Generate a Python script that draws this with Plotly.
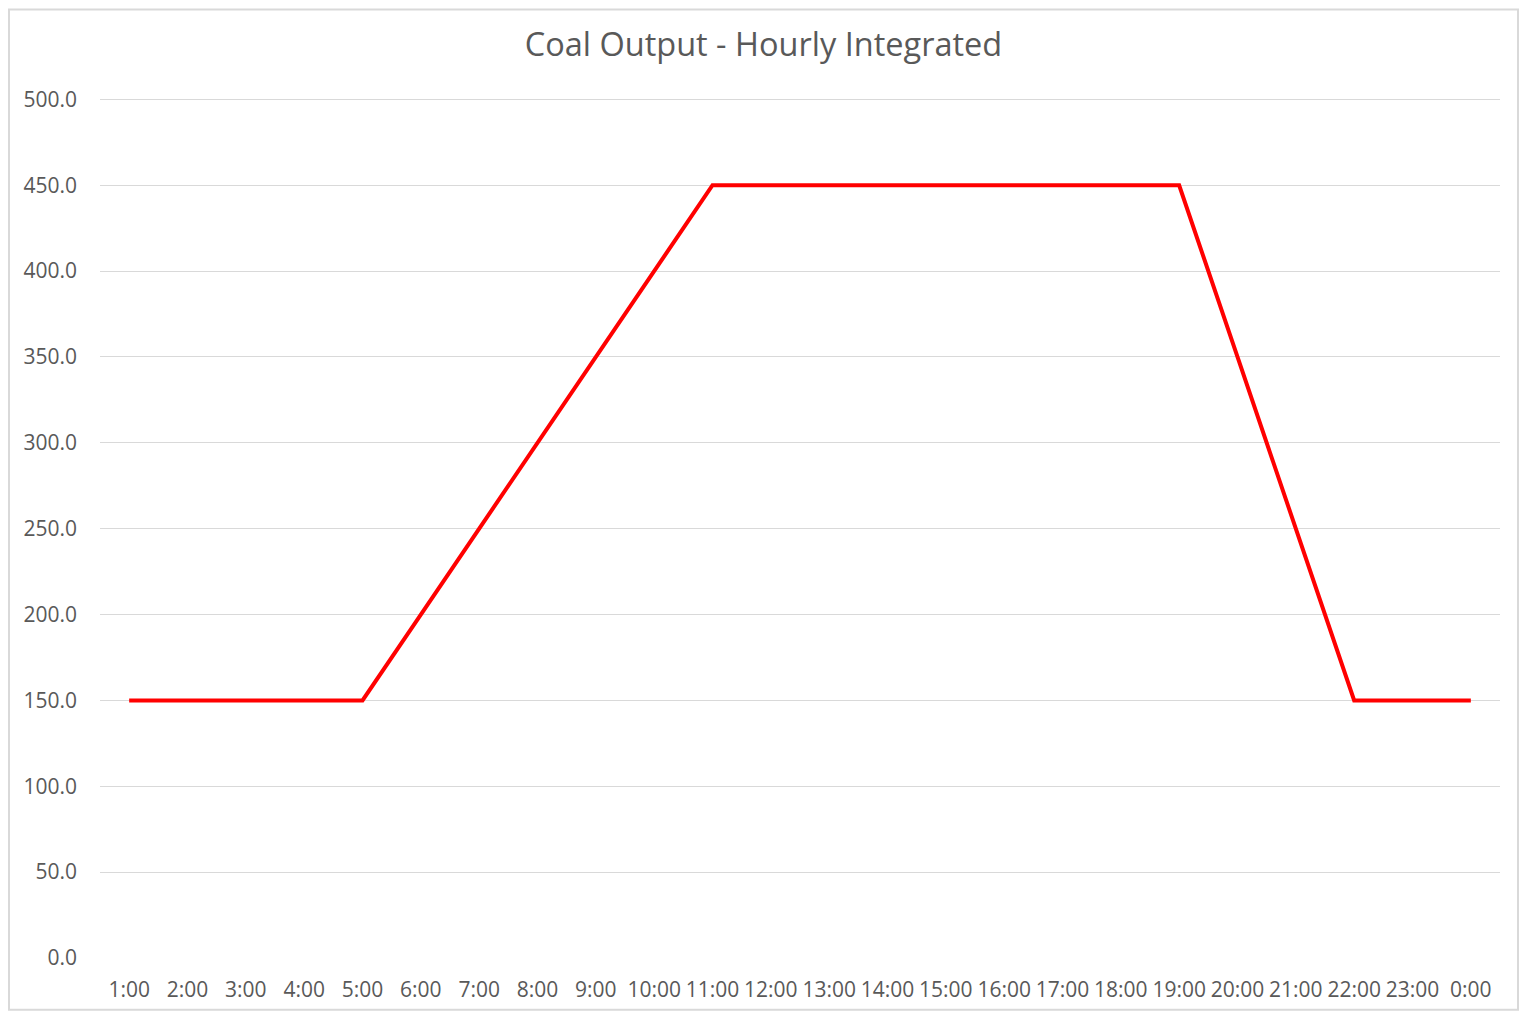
import plotly.graph_objects as go

hours = ["1:00", "2:00", "3:00", "4:00", "5:00", "6:00", "7:00", "8:00", "9:00", "10:00",
         "11:00", "12:00", "13:00", "14:00", "15:00", "16:00", "17:00", "18:00", "19:00",
         "20:00", "21:00", "22:00", "23:00", "0:00"]
coal_output = [150, 150, 150, 150, 150, 200, 250, 300, 350, 400,
               450, 450, 450, 450, 450, 450, 450, 450, 450,
               350, 250, 150, 150, 150]
y_ticks = [0, 50, 100, 150, 200, 250, 300, 350, 400, 450, 500]
y_labels = [f"{v:.1f}" for v in y_ticks]

font_family = "Open Sans, Noto Sans, sans-serif"
grey = "#595959"

W, H = 1511, 1007
fig = go.Figure()
fig.add_trace(go.Scatter(
    x=hours, y=coal_output, mode="lines",
    line=dict(color="#FF0000", width=4),
    showlegend=False, hoverinfo="x+y",
))

fig.update_layout(
    width=W, height=H,
    margin=dict(l=92, r=19, t=90, b=53),
    paper_bgcolor="white", plot_bgcolor="white",
    title=dict(text="Coal Output - Hourly Integrated", x=0.5, xanchor="center",
               y=1 - 37 / H, yanchor="middle",
               font=dict(family=font_family, size=32.5, color=grey)),
    font=dict(family=font_family, color=grey),
    xaxis=dict(
        type="category", range=[-0.5, len(hours) - 0.5],
        showgrid=False, zeroline=False,
        showline=True, linecolor="white", linewidth=1,
        ticks="", ticklabelstandoff=13,
        tickfont=dict(size=21, color=grey), tickangle=0,
    ),
    yaxis=dict(
        range=[0, 500.8], tickvals=y_ticks, ticktext=y_labels,
        showgrid=True, gridcolor="#d9d9d9", gridwidth=1,
        zeroline=False, showline=False, ticks="",
        ticklabelstandoff=22,
        tickfont=dict(size=21, color=grey),
    ),
    shapes=[dict(type="rect", xref="paper", yref="paper",
                 x0=-91 / 1400, x1=1 + 18 / 1400, y0=-52 / 864, y1=1 + 89 / 864,
                 line=dict(color="#d9d9d9", width=2), fillcolor="rgba(0,0,0,0)")],
)

fig.write_html("out.html")
